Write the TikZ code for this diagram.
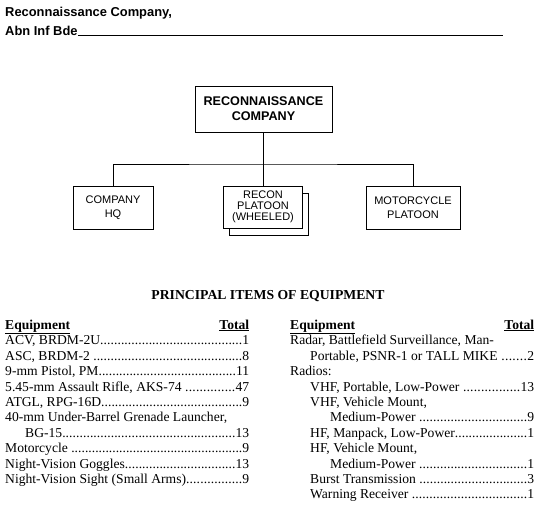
\documentclass[tikz,border=0pt]{standalone}
\usepackage{fontspec}
\setmainfont{Liberation Serif}
\setsansfont{Liberation Sans}
\newcommand\dotlead{\xleaders\hbox{.}\hfill}
\newcommand\eqrow[3]{\hbox to 244pt{\hspace*{#1}#2\dotlead #3}}
\begin{document}
\begin{tikzpicture}[x=1pt,y=-1pt,
  box/.style={draw,line width=0.8pt,fill=white,align=center,inner sep=0pt,
    font=\sffamily\fontsize{11}{14.5}\selectfont},
  topbox/.style={box,font=\sffamily\bfseries\fontsize{12.6}{15}\selectfont},
  conn/.style={line width=0.8pt},
  row/.style={anchor=base west,inner sep=0pt,font=\fontsize{13.6}{15}\selectfont},
  head/.style={anchor=base west,inner sep=0pt,font=\sffamily\bfseries\fontsize{12.9}{15}\selectfont}]
\useasboundingbox (0,0) rectangle (550,519);
\fill[white] (0,0) rectangle (550,519);
% heading
\node[head] (h1) at (5,17) {Reconnaissance Company,};
\node[head] (h2) at (5,35.5) {Abn Inf Bde};
\draw[line width=0.7pt] (h2.base east) -- (503,35.5) coordinate (hend);
% chart
\node[topbox,minimum width=137pt,minimum height=46pt] (top) at (263.5,109) {RECONNAISSANCE\\COMPANY};
\node[box,minimum width=80pt,minimum height=43pt] (hq) at (113,207.5) {COMPANY\\HQ};
\node[box,minimum width=79pt,minimum height=42pt] (shadow) at (269,214) {};
\node[box,minimum width=79pt,minimum height=42pt,font=\sffamily\fontsize{11}{11}\selectfont] (recon) at (263,207) {RECON\\PLATOON\\(WHEELED)};
\node[box,minimum width=94pt,minimum height=43pt] (mc) at (413,207.5) {MOTORCYCLE\\PLATOON};
\coordinate (bar) at (263,164);
\draw[conn] (top.south -| recon.north) -- (recon.north);
\draw[conn] (hq.north) |- (bar) -| (mc.north);
% equipment
\node[anchor=base,inner sep=0pt,font=\bfseries\fontsize{13.7}{15}\selectfont] (pie) at (268,299.5) {PRINCIPAL ITEMS OF EQUIPMENT};
\node[row] (lh) at (5,329) {\bfseries\hbox to 244pt{\underline{Equipment}\hfill\underline{Total}}};
\node[row] (l1) at (5,344.9) {\eqrow{0pt}{ACV, BRDM-2U}{1}};
\node[row] (l2) at (5,360.3) {\eqrow{0pt}{ASC, BRDM-2 }{8}};
\node[row] (l3) at (5,375.7) {\eqrow{0pt}{9-mm Pistol, PM}{11}};
\node[row] (l4) at (5,391.1) {\eqrow{0pt}{5.45-mm Assault Rifle, AKS-74 }{47}};
\node[row] (l5) at (5,406.5) {\eqrow{0pt}{ATGL, RPG-16D}{9}};
\node[row] (l6) at (5,421.9) {40-mm Under-Barrel Grenade Launcher,};
\node[row] (l7) at (5,437.3) {\eqrow{20pt}{BG-15}{13}};
\node[row] (l8) at (5,452.7) {\eqrow{0pt}{Motorcycle }{9}};
\node[row] (l9) at (5,468.1) {\eqrow{0pt}{Night-Vision Goggles}{13}};
\node[row] (l10) at (5,483.5) {\eqrow{0pt}{Night-Vision Sight (Small Arms)}{9}};
\node[row] (rh) at (290,329) {\bfseries\hbox to 244pt{\underline{Equipment}\hfill\underline{Total}}};
\node[row] (r1) at (290,344.9) {Radar, Battlefield Surveillance, Man-};
\node[row] (r2) at (290,360.3) {\eqrow{20pt}{Portable, PSNR-1 or TALL MIKE }{2}};
\node[row] (r3) at (290,375.7) {Radios:};
\node[row] (r4) at (290,391.1) {\eqrow{20pt}{VHF, Portable, Low-Power }{13}};
\node[row] (r5) at (290,406.5) {\hspace*{20pt}VHF, Vehicle Mount,};
\node[row] (r6) at (290,421.9) {\eqrow{40pt}{Medium-Power }{9}};
\node[row] (r7) at (290,437.3) {\eqrow{20pt}{HF, Manpack, Low-Power}{1}};
\node[row] (r8) at (290,452.7) {\hspace*{20pt}HF, Vehicle Mount,};
\node[row] (r9) at (290,468.1) {\eqrow{40pt}{Medium-Power }{1}};
\node[row] (r10) at (290,483.5) {\eqrow{20pt}{Burst Transmission }{3}};
\node[row] (r11) at (290,498.9) {\eqrow{20pt}{Warning Receiver }{1}};
\end{tikzpicture}
\end{document}
